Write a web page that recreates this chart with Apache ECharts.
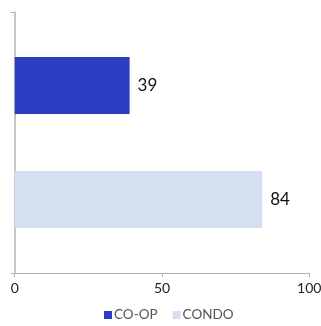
<!DOCTYPE html>
<html><head><meta charset="utf-8">
<script src="https://cdn.jsdelivr.net/npm/echarts@6/dist/echarts.min.js"></script>
<style>html,body{margin:0;padding:0;background:#fff}#c{width:321px;height:326px}</style>
</head><body><div id="c"></div>
<script>
const categories = [''];
const seriesNames = ['CO-OP', 'CONDO'];
const coopValues = [39];
const condoValues = [84];
const xTicks = [0, 50, 100];
const colors = ['#2a3ec2', '#d4dff2'];

const chart = echarts.init(document.getElementById('c'));
const font = 'Lato, "Open Sans", sans-serif';
chart.setOption({
  animation: false,
  textStyle: { fontFamily: font },
  grid: { left: 14.7, right: 11.7, top: 12, bottom: 53, containLabel: false, outerBoundsMode: 'none' },
  legend: {
    bottom: -1, left: 99,
    itemWidth: 8, itemHeight: 8, itemGap: 15,
    icon: 'rect',
    textStyle: { color: '#555', fontSize: 13.5, fontFamily: font, padding: [0, 0, 0, -3] },
    data: seriesNames
  },
  xAxis: {
    type: 'value', min: xTicks[0], max: xTicks[xTicks.length - 1], interval: 50,
    axisLine: { show: true, lineStyle: { color: '#b3b3b3' } },
    axisTick: { show: true, length: 4, lineStyle: { color: '#b3b3b3' } },
    splitLine: { show: false },
    axisLabel: { color: '#222', fontSize: 14, margin: 8, fontFamily: font }
  },
  yAxis: {
    type: 'category', data: categories, inverse: true,
    axisLine: { show: true, lineStyle: { color: '#b3b3b3', width: 1.5 } },
    axisTick: { show: true, length: 4, lineStyle: { color: '#b3b3b3' } },
    axisLabel: { show: false }
  },
  series: [
    { name: seriesNames[0], type: 'bar', data: coopValues, barWidth: 57, barGap: '100%',
      itemStyle: { color: colors[0] },
      label: { show: true, position: 'right', distance: 8, color: '#111', fontSize: 17, fontFamily: font } },
    { name: seriesNames[1], type: 'bar', data: condoValues, barWidth: 57, barGap: '100%',
      itemStyle: { color: colors[1] },
      label: { show: true, position: 'right', distance: 8, color: '#111', fontSize: 17, fontFamily: font } }
  ]
});
</script></body></html>
